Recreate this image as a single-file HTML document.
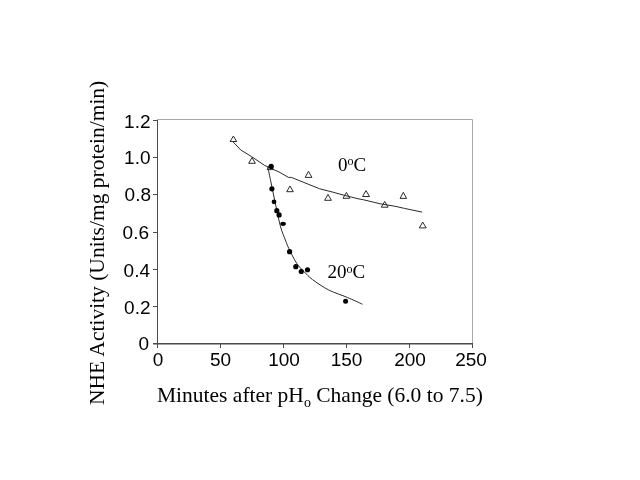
<!DOCTYPE html>
<html><head><meta charset="utf-8">
<style>
html,body{margin:0;padding:0;background:#fff;}
body{width:640px;height:480px;overflow:hidden;position:relative;}
svg{position:absolute;left:0;top:0;will-change:transform;}
.s{font-family:"Liberation Sans",sans-serif;font-size:19px;fill:#000;}
.t{font-family:"Liberation Serif",serif;font-size:21.5px;fill:#000;}
.l{font-family:"Liberation Serif",serif;font-size:19px;fill:#000;}
</style></head><body>
<svg width="640" height="480" viewBox="0 0 640 480">
<!-- plot border -->
<path d="M157 119.5 H472.5 V343" fill="none" stroke="#aaaaaa" stroke-width="1"/>
<!-- y axis -->
<path d="M157.5 120 V348" fill="none" stroke="#4a4a4a" stroke-width="1"/>
<!-- x axis -->
<path d="M153 343.8 H473" fill="none" stroke="#4a4a4a" stroke-width="1.6"/>
<!-- y ticks -->
<path d="M153 120.5H157 M153 157.5H157 M153 194.5H157 M153 232.5H157 M153 269.5H157 M153 306.5H157" stroke="#4a4a4a" stroke-width="1"/>
<!-- x ticks -->
<path d="M220.5 344V348 M283.5 344V348 M346.5 344V348 M409.5 344V348 M472.5 344V348" stroke="#4a4a4a" stroke-width="1"/>
<!-- y labels -->
<g class="s" text-anchor="end">
<text x="150.5" y="127.5">1.2</text>
<text x="150.5" y="163.5">1.0</text>
<text x="151" y="201">0.8</text>
<text x="149" y="238.5">0.6</text>
<text x="150" y="276.5">0.4</text>
<text x="150.5" y="314">0.2</text>
<text x="149" y="349.5">0</text>
</g>
<g class="s" text-anchor="middle">
<text x="158" y="366">0</text>
<text x="220.5" y="366">50</text>
<text x="284" y="366">100</text>
<text x="346.5" y="366">150</text>
<text x="410" y="366">200</text>
<text x="471" y="366">250</text>
</g>
<!-- titles -->
<text class="t" x="157" y="402">Minutes after pH<tspan font-size="14" dy="5">o</tspan><tspan dy="-5"> Change (6.0 to 7.5)</tspan></text>
<text class="t" transform="translate(104,405) rotate(-90)">NHE Activity (Units/mg protein/min)</text>
<!-- triangles -->
<g fill="#fff" stroke="#2a2a2a" stroke-width="1" stroke-linejoin="miter">
<path d="M233.4 136 L236.7 141.5 L230.1 141.5Z"/>
<path d="M252 157.5 L255.4 163.3 L248.7 163.3Z"/>
<path d="M270.3 164 L273.5 169.6 L267.1 169.6Z"/>
<path d="M290 186 L293.3 191.7 L286.7 191.7Z"/>
<path d="M308.5 171.3 L311.9 177.4 L305.2 177.4Z"/>
<path d="M328 194.4 L331.4 200.3 L324.6 200.3Z"/>
<path d="M346.4 192.4 L349.8 198.3 L343 198.3Z"/>
<path d="M366 190.6 L369.5 196.5 L362.5 196.5Z"/>
<path d="M384.7 201.4 L388.1 207.2 L381.3 207.2Z"/>
<path d="M403.3 192.3 L406.6 198.4 L400.1 198.4Z"/>
<path d="M422.7 222 L426.2 227.9 L419.3 227.9Z"/>
</g>
<!-- curves -->
<path d="M232.9 141.7 L240.8 150 L251.7 156.7 L264.6 165.4 L273.1 169.25 L280 172.5 L288.3 177.3 L291.7 177.5 L305 182.9 L319.6 188.75 L333 192.2 L344.25 195.3 L358 198.75 L363.1 199.7 L380 203.75 L395 206.25 L404.5 208.4 L422.2 212.1" fill="none" stroke="#2a2a2a" stroke-width="1"/>
<path d="M267.80 167.00 C268.32 169.50 269.58 175.67 270.90 182.00 C272.22 188.33 274.08 197.52 275.70 205.00 C277.32 212.48 278.98 221.07 280.60 226.90 C282.22 232.73 284.04 236.43 285.40 240.00 C286.76 243.57 286.87 244.42 288.75 248.30 C290.63 252.18 294.07 259.35 296.70 263.30 C299.32 267.25 301.87 269.28 304.50 272.00 C307.13 274.72 308.46 276.60 312.50 279.60 C316.54 282.60 322.92 287.02 328.75 290.00 C334.58 292.98 341.88 295.12 347.50 297.50 C353.12 299.88 360.00 303.12 362.50 304.25" fill="none" stroke="#2a2a2a" stroke-width="1"/>
<!-- circles -->
<g fill="#000">
<circle cx="271.25" cy="166.4" r="2.6"/>
<circle cx="271.9" cy="188.8" r="2.6"/>
<circle cx="274" cy="201.8" r="2.4"/>
<circle cx="276.8" cy="210.7" r="2.6"/>
<circle cx="279.1" cy="214.9" r="2.6"/>
<ellipse cx="283.1" cy="223.8" rx="2.8" ry="2.1"/>
<circle cx="289.6" cy="251.7" r="2.6"/>
<circle cx="295.8" cy="266.7" r="2.6"/>
<circle cx="301.25" cy="271.5" r="2.6"/>
<circle cx="307.5" cy="269.75" r="2.6"/>
<circle cx="345.6" cy="301.25" r="2.5"/>
</g>
<!-- labels -->
<text class="l" x="338" y="170.6">0<tspan font-size="12" dy="-5.5">o</tspan><tspan dy="5.5">C</tspan></text>
<text class="l" x="327.5" y="278">20<tspan font-size="12" dy="-5.5">o</tspan><tspan dy="5.5">C</tspan></text>
</svg>
</body></html>
